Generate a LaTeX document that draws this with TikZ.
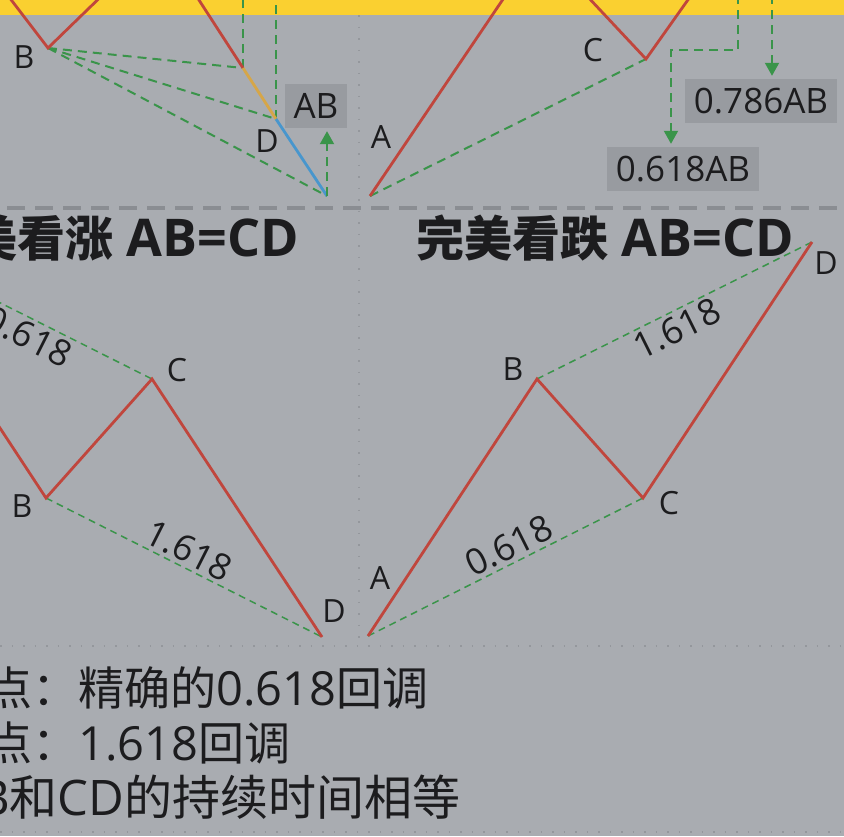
\documentclass[tikz,border=0pt]{standalone}
\usepackage{fontspec}
\setmainfont{Open Sans}
\newfontfamily\cjk[Scale=0.98]{Noto Sans CJK SC}
\usetikzlibrary{arrows.meta}
\definecolor{bgGrey}{RGB}{169,172,177}
\definecolor{bandYellow}{RGB}{250,208,48}
\definecolor{legRed}{RGB}{192,70,61}
\definecolor{legOrange}{RGB}{214,166,72}
\definecolor{legBlue}{RGB}{72,150,205}
\definecolor{fibGreen}{RGB}{58,148,74}
\definecolor{boxGrey}{RGB}{152,155,160}
\definecolor{sepGrey}{RGB}{138,141,146}
\definecolor{dotGrey}{RGB}{148,151,156}
\definecolor{inkBlack}{RGB}{28,28,30}

\begin{document}
\begin{tikzpicture}[x=1pt, y=-1pt,
    leg/.style={legRed, line width=2.8pt},
    fib/.style={fibGreen, line width=2pt, dash pattern=on 9pt off 6pt},
    fibline/.style={fibGreen, line width=1.5pt, dash pattern=on 7pt off 5pt},
    fibarrow/.style={fib, -{Triangle[width=14pt,length=13pt]}, shorten >=3pt},
    pt/.style={text=inkBlack, font=\fontsize{32}{32}\selectfont, inner sep=0pt},
    ratio/.style={text=inkBlack, font=\fontsize{36}{36}\selectfont, sloped},
    tag/.style={fill=boxGrey, text=inkBlack, font=\fontsize{35}{35}\selectfont, inner xsep=9pt, inner ysep=9.5pt, text height=25pt, text depth=0pt},
    title/.style={text=inkBlack, font=\fontsize{52}{52}\selectfont\bfseries, anchor=base west, inner sep=0pt},
    note/.style={text=inkBlack, font=\fontsize{47}{47}\selectfont, anchor=base west, inner sep=0pt}]
    \useasboundingbox (0,0) rectangle (844,836);
    \clip (0,0) rectangle (844,836);
    \fill[bgGrey] (0,0) rectangle (844,836);
    \fill[bandYellow] (0,0) rectangle (844,15);
    \draw[sepGrey, line width=4pt, dash pattern=on 18pt off 10pt] (-21,208) -- (850,208);
    \draw[dotGrey, line width=1.5pt, dash pattern=on 1.5pt off 10pt] (359,15) -- (359,646);
    \draw[dotGrey, line width=1.5pt, dash pattern=on 1.5pt off 10pt] (0,646) -- (844,646);
    \draw[dotGrey, line width=1.5pt, dash pattern=on 1.5pt off 10pt] (0,832) -- (844,832);

    \coordinate (top) at (0,-20);
    \coordinate (tlS) at (-4,-20);
    \coordinate (tlB) at (48,48);
    \coordinate (tlT) at (118,-20);
    \coordinate (tlX) at (186,-20);
    \coordinate (tlP) at (243,68);
    \coordinate (tlD) at (276,119);
    \coordinate (tlE) at (327,196);
    \draw[fib] (tlB) -- (tlP);
    \draw[fib] (tlB) -- (tlD);
    \draw[fib] (tlB) -- (tlE);
    \draw[fib] (tlP) -- (tlP |- top);
    \draw[fib] (tlD) -- (tlD |- top);
    \draw[leg] (tlS) -- (tlB) -- (tlT);
    \draw[leg] (tlX) -- (tlP);
    \draw[legOrange, line width=2.8pt] (tlP) -- (tlD);
    \draw[legBlue, line width=2.8pt] (tlD) -- (tlE);
    \node[pt] (tlBl) at (24,57) {B};
    \node[pt] (tlDl) at (267,141) {D};
    \node[tag] (tlAB) at (316,106) {AB};
    \draw[fibarrow] (tlE) -- (tlE |- tlAB.south);

    \coordinate (trA) at (370,196);
    \coordinate (trB) at (516,-20);
    \coordinate (trS) at (572,-20);
    \coordinate (trC) at (646,59);
    \coordinate (trT) at (702,-20);
    \coordinate (trK1) at (738,-20);
    \coordinate (trK2) at (738,50);
    \coordinate (trK3) at (671,50);
    \coordinate (trK4) at (772,-20);
    \draw[fib] (trA) -- (trC);
    \draw[leg] (trA) -- (trB);
    \draw[leg] (trS) -- (trC) -- (trT);
    \node[pt] (trAl) at (381,137) {A};
    \node[pt] (trCl) at (593,50) {C};
    \node[tag] (trF1) at (683,169) {0.618AB};
    \node[tag] (trF2) at (761,101) {0.786AB};
    \draw[fibarrow] (trK1) -- (trK2) -- (trK3) -- (trK3 |- trF1.north);
    \draw[fibarrow] (trK4) -- (trK4 |- trF2.north);

    \node[title] (blT) at (-31,256) {{\cjk\fontsize{49}{49}\selectfont 美看涨} AB=CD};
    \coordinate (blA) at (-123,241);
    \coordinate (blB) at (46,498);
    \coordinate (blC) at (152,379);
    \coordinate (blD) at (322,637);
    \draw[fibline] (blA) -- node[ratio, below, pos=0.58] (blR1) {0.618} (blC);
    \draw[fibline] (blB) -- node[ratio, above, pos=0.49] (blR2) {1.618} (blD);
    \draw[leg] (blA) -- (blB) -- (blC) -- (blD);
    \node[pt] (blBl) at (22,506) {B};
    \node[pt] (blCl) at (177,370) {C};
    \node[pt] (blDl) at (334,611) {D};

    \node[title] (brT) at (416,256) {{\cjk\fontsize{49}{49}\selectfont 完美看跌} AB=CD};
    \coordinate (brA) at (368,636);
    \coordinate (brB) at (537,379);
    \coordinate (brC) at (643,498);
    \coordinate (brD) at (812,242);
    \draw[fibline] (brA) -- node[ratio, above, pos=0.54] (brR1) {0.618} (brC);
    \draw[fibline] (brB) -- node[ratio, below, pos=0.48] (brR2) {1.618} (brD);
    \draw[leg] (brA) -- (brB) -- (brC) -- (brD);
    \node[pt] (brAl) at (380,578) {A};
    \node[pt] (brBl) at (513,369) {B};
    \node[pt] (brCl) at (669,503) {C};
    \node[pt] (brDl) at (826,263) {D};

    \node[note] (nt1) at (-14,705) {{\cjk 点：精确的}0.618{\cjk 回调}};
    \node[note] (nt2) at (-14,760) {{\cjk 点：}1.618{\cjk 回调}};
    \node[note, font=\fontsize{49}{49}\selectfont] (nt3) at (-22,815) {B{\cjk 和}CD{\cjk 的持续时间相等}};
\end{tikzpicture}
\end{document}
